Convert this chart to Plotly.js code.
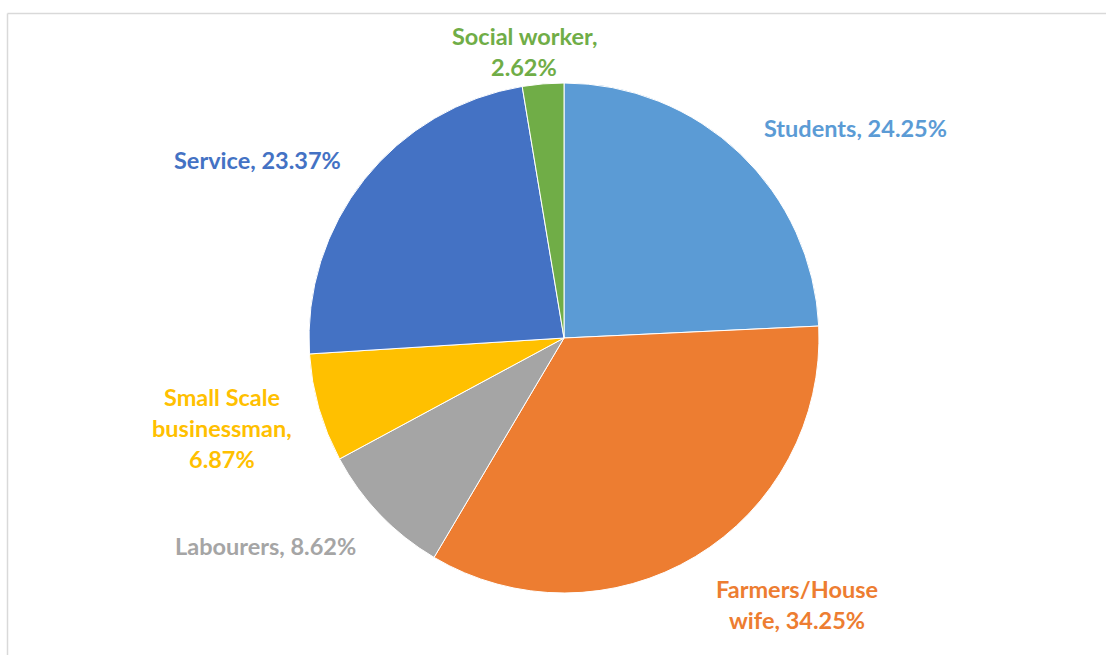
<!DOCTYPE html>
<html>
<head>
<meta charset="utf-8">
<script src="https://cdn.plot.ly/plotly-3.0.1.min.js"></script>
<style>html,body{margin:0;padding:0;background:#fff;}#chart{width:1106px;height:655px;}</style>
</head>
<body>
<div id="chart"></div>
<script>
const categories = ["Students", "Farmers/House wife", "Labourers", "Small Scale businessman", "Service", "Social worker"];
const values = [24.25, 34.25, 8.62, 6.87, 23.37, 2.62];
const colors = ["#5B9BD5", "#ED7D31", "#A5A5A5", "#FFC000", "#4472C4", "#70AD47"];
const labelLines = [
  ["Students, {v}"],
  ["Farmers/House", "wife, {v}"],
  ["Labourers, {v}"],
  ["Small Scale", "businessman,", "{v}"],
  ["Service, {v}"],
  ["Social worker,", "{v}"]
];
// label anchor centres in pixel coordinates (layout only)
const labelPos = [[855, 128], [797, 604], [265, 546], [222, 428], [257, 160], [524, 51]];

const W = 1106, H = 655;
const cx = 564, cy = 338, R = 255;

const annotations = [];
const lineGap = 31;
categories.forEach((c, i) => {
  const lines = labelLines[i].map(s => s.replace("{v}", values[i].toFixed(2) + "%"));
  const n = lines.length;
  lines.forEach((t, j) => {
    const py = labelPos[i][1] + (j - (n - 1) / 2) * lineGap;
    annotations.push({
      x: labelPos[i][0] / W, y: 1 - py / H, xref: "paper", yref: "paper",
      text: "<b>" + t + "</b>", showarrow: false, xanchor: "center", yanchor: "middle",
      font: {family: "Lato, 'Open Sans', sans-serif", size: 23.5, color: colors[i]}
    });
  });
});

const data = [{
  type: "pie",
  labels: categories,
  values: values,
  sort: false,
  direction: "clockwise",
  rotation: 0,
  marker: {colors: colors, line: {color: "#ffffff", width: 1}},
  textinfo: "none",
  hoverinfo: "label+percent",
  showlegend: false,
  domain: {x: [(cx - R) / W, (cx + R) / W], y: [1 - (cy + R) / H, 1 - (cy - R) / H]}
}];

const layout = {
  width: W, height: H,
  margin: {l: 0, r: 0, t: 0, b: 0},
  paper_bgcolor: "#ffffff",
  showlegend: false,
  annotations: annotations,
  shapes: [
    {type: "line", xref: "paper", yref: "paper", x0: 7.5 / W, x1: 1, y0: 1 - 13.5 / H, y1: 1 - 13.5 / H, line: {color: "#D9D9D9", width: 1.5}},
    {type: "line", xref: "paper", yref: "paper", x0: 7.5 / W, x1: 7.5 / W, y0: 0, y1: 1 - 13.5 / H, line: {color: "#D9D9D9", width: 1.5}}
  ]
};

Plotly.newPlot("chart", data, layout, {displayModeBar: false, staticPlot: true});
</script>
</body>
</html>
